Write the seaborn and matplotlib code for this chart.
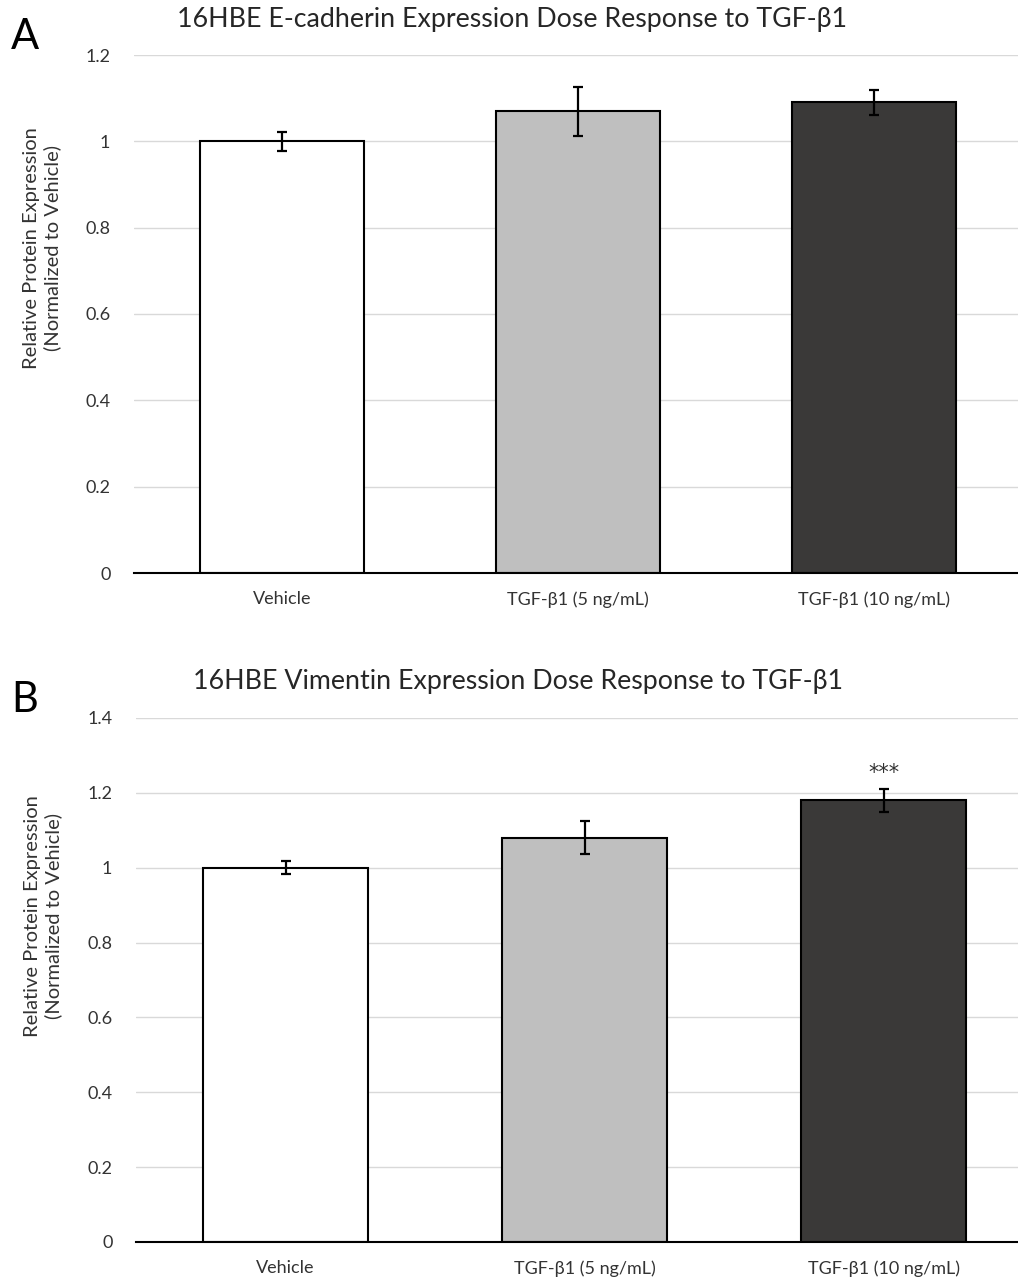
import matplotlib
matplotlib.use("Agg")
import matplotlib.pyplot as plt
import seaborn as sns
import pandas as pd
import numpy as np

# Treatment groups and measured expression (mean ± SEM, normalized to vehicle)
groups = ["Vehicle", "TGF-β1 (5 ng/mL)", "TGF-β1 (10 ng/mL)"]
ecad_mean = [1.00, 1.07, 1.09]
ecad_err = [0.022, 0.057, 0.030]
vim_mean = [1.00, 1.08, 1.18]
vim_err = [0.018, 0.044, 0.030]
bar_colors = ["#FFFFFF", "#BFBFBF", "#3A3938"]
sig_labels = ["", "", "***"]

sns.set_theme(style="white")
plt.rcParams["font.family"] = ["Lato", "DejaVu Sans"]

fig = plt.figure(figsize=(10.18, 12.8), dpi=100)

panels = [
    dict(letter="A", title="16HBE E-cadherin Expression Dose Response to TGF-β1",
         mean=ecad_mean, err=ecad_err, ymax=1.2, yticks=np.arange(0, 1.21, 0.2),
         rect=[134 / 1018, 1 - 573 / 1280, 888 / 1018, 518 / 1280],
         title_xy=(512 / 1018, 1 - 19 / 1280), letter_xy=(25 / 1018, 1 - 37 / 1280),
         ylab_y=0.627, sig=False),
    dict(letter="B", title="16HBE Vimentin Expression Dose Response to TGF-β1",
         mean=vim_mean, err=vim_err, ymax=1.4, yticks=np.arange(0, 1.41, 0.2),
         rect=[136 / 1018, 1 - 1242 / 1280, 897 / 1018, 524 / 1280],
         title_xy=(518 / 1018, 1 - 682 / 1280), letter_xy=(25 / 1018, 1 - 700 / 1280),
         ylab_y=0.622, sig=True),
]

for p in panels:
    ax = fig.add_axes(p["rect"])
    df = pd.DataFrame({"group": groups, "value": p["mean"]})
    sns.barplot(data=df, x="group", y="value", hue="group", palette=bar_colors,
                order=groups, hue_order=groups, width=0.555, edgecolor="black",
                linewidth=1.5, errorbar=None, legend=False, ax=ax, zorder=3)
    ax.errorbar(np.arange(len(groups)), p["mean"], yerr=p["err"], fmt="none",
                ecolor="black", elinewidth=1.6, capsize=3.5, capthick=1.6, zorder=4)
    if p["sig"]:
        for i, (m, e, s) in enumerate(zip(p["mean"], p["err"], sig_labels)):
            if s:
                ax.text(i, m + e + 0.016, s, ha="center", va="bottom",
                        fontsize=15, color="#333333", family="DejaVu Sans")
    ax.set_xlim(-0.5, 2.5)
    ax.set_ylim(0, p["ymax"])
    ax.set_yticks(p["yticks"])
    ax.set_yticklabels([f"{v:g}" for v in np.round(p["yticks"], 1)])
    ax.yaxis.grid(True, color="#D9D9D9", linewidth=1.0, zorder=0)
    ax.set_axisbelow(True)
    for side in ["top", "right", "left"]:
        ax.spines[side].set_visible(False)
    ax.spines["bottom"].set_color("black")
    ax.spines["bottom"].set_linewidth(1.5)
    ax.spines["bottom"].set_zorder(5)
    ax.tick_params(axis="both", length=0, labelsize=13, colors="#333333")
    ax.tick_params(axis="y", pad=17)
    ax.tick_params(axis="x", pad=13)
    ax.set_xlabel("")
    ax.set_ylabel("Relative Protein Expression\n(Normalized to Vehicle)",
                  fontsize=14.5, color="#333333", linespacing=1.25)
    ax.yaxis.set_label_coords(-0.082, p["ylab_y"])
    fig.text(*p["title_xy"], p["title"], ha="center", va="center",
             fontsize=19.3, color="#262626")
    fig.text(*p["letter_xy"], p["letter"], ha="center", va="center",
             fontsize=30, color="black")

fig.savefig("out.png", dpi=100, facecolor="white")
